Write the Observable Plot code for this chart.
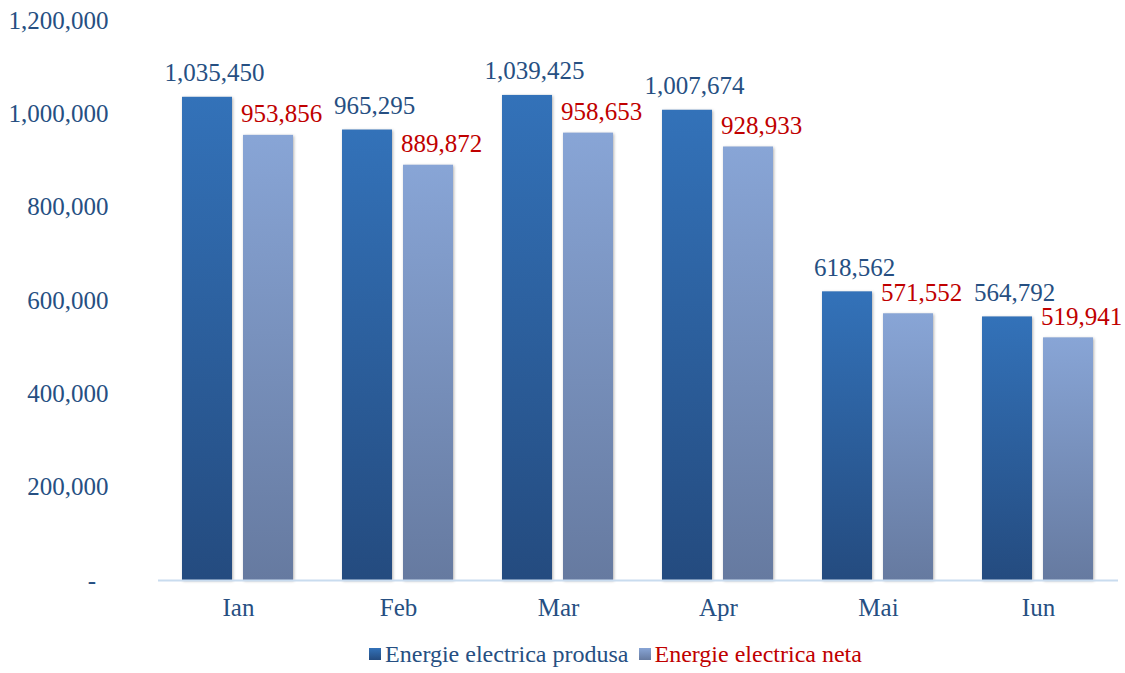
<!DOCTYPE html>
<html>
<head>
<meta charset="utf-8">
<script src="https://cdn.jsdelivr.net/npm/d3@7"></script>
<script src="https://cdn.jsdelivr.net/npm/@observablehq/plot@0.6"></script>
<style>
  html, body { margin: 0; padding: 0; background: #fff; }
  body { width: 1125px; height: 673px; overflow: hidden; font-family: "Liberation Serif", "Times New Roman", serif; }
  #legend { display: flex; justify-content: center; align-items: center; height: 38px; font-size: 24px; padding-left: 106px; margin-top: 5px; }
  #legend .item { display: flex; align-items: center; margin: 0 5px; }
  #legend .sw { width: 12px; height: 12px; margin-right: 4px; }
</style>
</head>
<body>
<div id="chart"></div>
<div id="legend"></div>
<script>
const months = ["Ian", "Feb", "Mar", "Apr", "Mai", "Iun"];
const seriesNames = ["Energie electrica produsa", "Energie electrica neta"];
const produsa = [1035450, 965295, 1039425, 1007674, 618562, 564792];
const neta = [953856, 889872, 958653, 928933, 571552, 519941];
const yTicks = [0, 200000, 400000, 600000, 800000, 1000000, 1200000];

const blueText = "#264F82";
const redText = "#C00000";
const fmt = d3.format(",");

const rowsP = months.map((m, i) => ({month: m, series: seriesNames[0], value: produsa[i]}));
const rowsN = months.map((m, i) => ({month: m, series: seriesNames[1], value: neta[i]}));

const font = "'Liberation Serif', 'Times New Roman', serif";
const fs = 25;

const chart = Plot.plot({
  width: 1125,
  height: 630,
  marginTop: 20,
  marginBottom: 50,
  marginLeft: 157,
  marginRight: 7,
  style: {fontFamily: font, fontSize: fs + "px", color: blueText, background: "transparent"},
  fx: {domain: months, padding: 0, label: null},
  x: {domain: seriesNames, paddingInner: 0.18, paddingOuter: 0.4, axis: null},
  y: {domain: [0, 1200000], label: null},
  marks: [
    Plot.axisY({ticks: yTicks, tickSize: 0, tickPadding: 50, label: null,
      tickFormat: d => d === 0 ? "-\u00a0\u00a0" : fmt(d), fontSize: fs}),
    Plot.axisFx({anchor: "bottom", tickSize: 0, tickPadding: 18, label: null, fontSize: fs}),
    Plot.barY(rowsP, {fx: "month", x: "series", y: "value", fill: "url(#gBlue)"}),
    Plot.barY(rowsN, {fx: "month", x: "series", y: "value", fill: "url(#gLight)"}),
    Plot.ruleY([0], {stroke: "#C9DCEF", strokeWidth: 2}),
    Plot.text(rowsP, {fx: "month", x: "series", y: "value", text: d => fmt(d.value), dy: -24, dx: 7, fill: blueText, fontSize: fs}),
    Plot.text(rowsN, {fx: "month", x: "series", y: "value", text: d => fmt(d.value), dy: -21, dx: 13, fill: redText, fontSize: fs})
  ]
});

const svg = d3.select(chart);
const defs = svg.insert("defs", ":first-child");
function grad(id, top, bottom) {
  const g = defs.append("linearGradient").attr("id", id).attr("x1", 0).attr("y1", 0).attr("x2", 0).attr("y2", 1);
  g.append("stop").attr("offset", "0%").attr("stop-color", top);
  g.append("stop").attr("offset", "100%").attr("stop-color", bottom);
}
grad("gBlue", "#3372B9", "#244B7F");
grad("gLight", "#88A5D6", "#667AA0");
svg.selectAll("g[aria-label='bar'] rect").style("filter", "drop-shadow(1px 1px 1.5px rgba(0,0,0,0.3))");

document.getElementById("chart").appendChild(chart);

const legend = d3.select("#legend");
const lg = [
  {name: seriesNames[0], g: "linear-gradient(#3372B9, #244B7F)", color: blueText},
  {name: seriesNames[1], g: "linear-gradient(#88A5D6, #667AA0)", color: redText}
];
lg.forEach(l => {
  const it = legend.append("div").attr("class", "item");
  it.append("div").attr("class", "sw").style("background", l.g);
  it.append("span").style("color", l.color).text(l.name);
});
</script>
</body>
</html>
